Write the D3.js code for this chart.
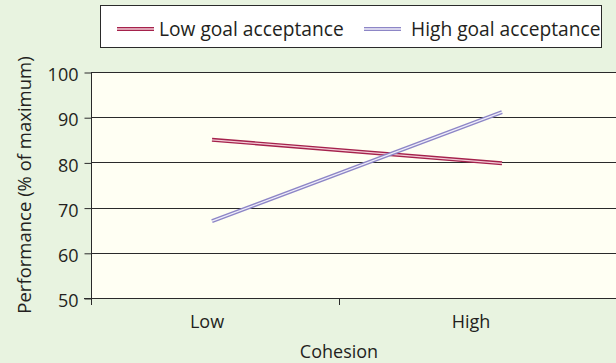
<!DOCTYPE html>
<html><head><meta charset="utf-8">
<script src="https://cdn.jsdelivr.net/npm/d3@7"></script>
<style>
html,body{margin:0;padding:0;background:#e8f3e0;}
svg{display:block;font-family:"Open Sans",sans-serif;}
</style></head>
<body>
<svg id="c" width="616" height="363"></svg>
<script>
const categories = ["Low", "High"];
const seriesNames = ["Low goal acceptance", "High goal acceptance"];
const lowGoal = [85, 79.8];
const highGoal = [67, 91.1];
const yTicks = [50, 60, 70, 80, 90, 100];
const xTitle = "Cohesion";
const yTitle = "Performance (% of maximum)";

(function () {
const series = [
  {name: seriesNames[0], values: lowGoal, outer: "#a5224c", inner: "#f3ccd6"},
  {name: seriesNames[1], values: highGoal, outer: "#8d86c6", inner: "#f0eefa"}
];

const svg = d3.select("#c");
const W = 616, H = 363;
const pL = 91, pR = 616, pT = 72, pB = 298;
const textColor = "#231f20";

svg.append("rect").attr("width", W).attr("height", H).attr("fill", "#e8f3e0");
svg.append("rect").attr("x", pL).attr("y", pT).attr("width", pR - pL).attr("height", pB - pT).attr("fill", "#fffff3");

const y = d3.scaleLinear().domain([50, 100]).range([pB, pT]);
const xLab = d3.scalePoint().domain(categories).range([207, 471]);
const xLine = d3.scalePoint().domain(categories).range([212, 502]);

// gridlines
svg.append("g").selectAll("line").data(yTicks.slice(1)).join("line")
  .attr("x1", pL).attr("x2", pR)
  .attr("y1", d => Math.round(y(d)) + 0.5).attr("y2", d => Math.round(y(d)) + 0.5)
  .attr("stroke", "#2a2a2a").attr("stroke-width", 1);

// y axis
const yAxis = d3.axisLeft(y).tickValues(yTicks).tickSize(7).tickPadding(6);
const gy = svg.append("g").attr("transform", `translate(${pL + 0.5},0.5)`).call(yAxis);
gy.select(".domain").remove();
gy.selectAll(".tick line").attr("stroke", "#2a2a2a");
gy.selectAll(".tick text").attr("font-size", 18).attr("fill", textColor).attr("font-family", "'Open Sans',sans-serif").attr("dy", "0.45em");
svg.append("line").attr("x1", pL + 0.5).attr("x2", pL + 0.5).attr("y1", pT).attr("y2", pB + 7).attr("stroke", "#2a2a2a");

// x axis baseline
svg.append("line").attr("x1", pL - 7).attr("x2", pR).attr("y1", pB + 0.5).attr("y2", pB + 0.5).attr("stroke", "#2a2a2a");
// tick between categories
const mid = (xLab(categories[0]) + xLab(categories[1])) / 2;
svg.append("line").attr("x1", Math.round(mid) + 0.5).attr("x2", Math.round(mid) + 0.5).attr("y1", pB).attr("y2", pB + 7).attr("stroke", "#2a2a2a");
svg.append("g").selectAll("text").data(categories).join("text")
  .attr("x", d => xLab(d)).attr("y", 328).attr("text-anchor", "middle")
  .attr("font-size", 18).attr("fill", textColor).text(d => d);

// axis titles
svg.append("text").attr("x", mid).attr("y", 358).attr("text-anchor", "middle")
  .attr("font-size", 18).attr("fill", textColor).text(xTitle);
svg.append("text").attr("transform", "translate(31,185) rotate(-90)").attr("text-anchor", "middle")
  .attr("font-size", 18.5).attr("fill", textColor).text(yTitle);

// lines
const line = d3.line().x((d, i) => xLine(categories[i])).y(d => y(d));
series.forEach(s => {
  svg.append("path").attr("d", line(s.values)).attr("fill", "none").attr("stroke", s.outer).attr("stroke-width", 4);
  svg.append("path").attr("d", line(s.values)).attr("fill", "none").attr("stroke", s.inner).attr("stroke-width", 1.3);
});

// legend
svg.append("rect").attr("x", 100.5).attr("y", 5.5).attr("width", 501).attr("height", 42)
  .attr("fill", "#ffffff").attr("stroke", "#2a2a2a").attr("stroke-width", 1);
const legendPos = [{lx: 117, tx: 159}, {lx: 364, tx: 411}];
series.forEach((s, i) => {
  const p = legendPos[i];
  svg.append("line").attr("x1", p.lx).attr("x2", p.lx + 37).attr("y1", 29).attr("y2", 29).attr("stroke", s.outer).attr("stroke-width", 4);
  svg.append("line").attr("x1", p.lx).attr("x2", p.lx + 37).attr("y1", 29).attr("y2", 29).attr("stroke", s.inner).attr("stroke-width", 1.3);
  svg.append("text").attr("x", p.tx).attr("y", 36).attr("font-size", 19.2).attr("fill", textColor).text(s.name);
});
})();
</script>
</body></html>
